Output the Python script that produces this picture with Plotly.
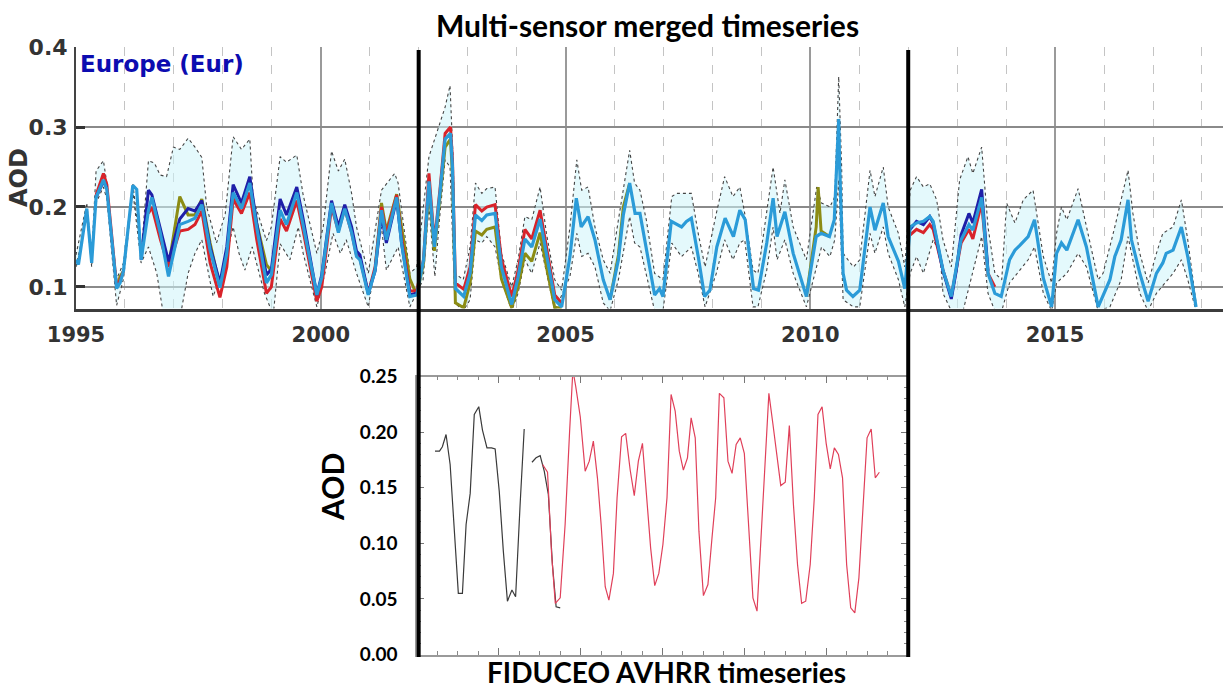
import plotly.graph_objects as go

# ---------------- Top panel: multi-sensor merged AOD, Europe ----------------
main_x = [1995.00, 1995.05, 1995.22, 1995.32, 1995.41, 1995.56, 1995.63, 1995.83, 1995.90, 1995.97,
          1996.16, 1996.24, 1996.33, 1996.48, 1996.55, 1996.72, 1996.89, 1997.12, 1997.29, 1997.43,
          1997.57, 1997.74, 1997.94, 1998.08, 1998.21, 1998.38, 1998.55, 1998.69, 1998.89, 1998.99,
          1999.17, 1999.30, 1999.51, 1999.64, 1999.92, 2000.02, 2000.22, 2000.36, 2000.49, 2000.63,
          2000.73, 2000.80, 2000.97, 2001.11, 2001.24, 2001.34, 2001.55, 2001.65, 2001.82, 2001.96,
          2002.10, 2002.21, 2002.32, 2002.44, 2002.54, 2002.65, 2002.69, 2002.75, 2002.92, 2003.05,
          2003.16, 2003.29, 2003.39, 2003.56, 2003.69, 2003.90, 2004.03, 2004.17, 2004.31, 2004.48,
          2004.61, 2004.78, 2004.92, 2005.09, 2005.22, 2005.32, 2005.46, 2005.60, 2005.77, 2005.91,
          2006.08, 2006.18, 2006.31, 2006.42, 2006.52, 2006.65, 2006.82, 2006.92, 2006.99, 2007.16,
          2007.27, 2007.37, 2007.47, 2007.57, 2007.71, 2007.84, 2007.95, 2008.09, 2008.26, 2008.43,
          2008.56, 2008.67, 2008.84, 2008.94, 2009.11, 2009.24, 2009.32, 2009.48, 2009.65, 2009.92,
          2010.12, 2010.22, 2010.39, 2010.49, 2010.58, 2010.60, 2010.67, 2010.74, 2010.87, 2011.01,
          2011.22, 2011.32, 2011.49, 2011.59, 2011.80, 2011.93, 2012.04, 2012.17, 2012.31, 2012.44,
          2012.51, 2012.71, 2012.88, 2012.98, 2013.08, 2013.24, 2013.32, 2013.50, 2013.63, 2013.77,
          2013.90, 2014.07, 2014.18, 2014.28, 2014.45, 2014.58, 2014.76, 2014.93, 2015.03, 2015.13,
          2015.24, 2015.47, 2015.64, 2015.88, 2015.98, 2016.12, 2016.22, 2016.35, 2016.49, 2016.56,
          2016.73, 2016.90, 2017.07, 2017.20, 2017.27, 2017.41, 2017.58, 2017.71, 2017.88]
main_aod = [0.134, 0.128, 0.198, 0.130, 0.212, 0.234, 0.222, 0.098, 0.105, 0.120,
            0.227, 0.222, 0.134, 0.196, 0.212, 0.168, 0.113, 0.178, 0.182, 0.186,
            0.203, 0.146, 0.099, 0.142, 0.218, 0.198, 0.230, 0.175, 0.105, 0.115,
            0.196, 0.178, 0.218, 0.178, 0.090, 0.112, 0.205, 0.168, 0.198, 0.168,
            0.138, 0.134, 0.090, 0.121, 0.196, 0.159, 0.212, 0.155, 0.088, 0.090,
            0.134, 0.232, 0.150, 0.221, 0.285, 0.292, 0.250, 0.098, 0.088, 0.117,
            0.190, 0.183, 0.190, 0.192, 0.125, 0.078, 0.112, 0.160, 0.150, 0.185,
            0.140, 0.084, 0.075, 0.138, 0.211, 0.175, 0.188, 0.159, 0.109, 0.084,
            0.134, 0.190, 0.230, 0.192, 0.192, 0.150, 0.090, 0.098, 0.088, 0.182,
            0.178, 0.175, 0.182, 0.186, 0.138, 0.088, 0.096, 0.150, 0.186, 0.163,
            0.196, 0.184, 0.098, 0.096, 0.155, 0.211, 0.163, 0.194, 0.142, 0.088,
            0.163, 0.167, 0.163, 0.184, 0.310, 0.250, 0.117, 0.096, 0.088, 0.096,
            0.200, 0.171, 0.205, 0.163, 0.132, 0.098, 0.175, 0.180, 0.182, 0.188,
            0.182, 0.121, 0.088, 0.121, 0.159, 0.178, 0.171, 0.212, 0.117, 0.092,
            0.088, 0.134, 0.146, 0.152, 0.163, 0.184, 0.111, 0.075, 0.142, 0.155,
            0.146, 0.184, 0.150, 0.075, 0.090, 0.109, 0.138, 0.159, 0.209, 0.159,
            0.117, 0.082, 0.117, 0.130, 0.142, 0.146, 0.175, 0.138, 0.075]

red_x = [1995.41, 1995.56, 1995.63, 1995.83, 1995.90, 1995.97, None,
         1996.48, 1996.55, 1996.72, 1996.89, 1997.12, 1997.29, 1997.43, 1997.57, 1997.74, 1997.94,
         1998.08, 1998.21, 1998.38, 1998.55, 1998.69, 1998.89, 1998.99, 1999.17, 1999.30, 1999.51,
         1999.64, 1999.92, 2000.02, 2000.22, 2000.36, 2000.49, 2000.63, 2000.73, 2000.80, 2000.97,
         2001.11, 2001.24, 2001.34, 2001.55, 2001.65, 2001.82, 2001.96, 2002.10, 2002.21, 2002.32,
         2002.44, 2002.54, 2002.65, 2002.69, 2002.75, 2002.92, 2003.05, 2003.16, 2003.29, 2003.39,
         2003.56, 2003.69, 2003.90, 2004.03, 2004.17, 2004.31, 2004.48, 2004.61, 2004.78, 2004.92, None,
         2012.04, 2012.17, 2012.31, 2012.44, 2012.51, 2012.71, 2012.88, 2012.98, 2013.08, 2013.24,
         2013.32, 2013.50, 2013.63, 2013.77]
red_aod = [0.215, 0.242, 0.228, 0.100, 0.108, 0.120, None,
           0.192, 0.200, 0.160, 0.125, 0.170, 0.172, 0.178, 0.195, 0.130, 0.087,
           0.125, 0.210, 0.192, 0.218, 0.160, 0.092, 0.100, 0.185, 0.170, 0.208,
           0.170, 0.082, 0.100, 0.200, 0.170, 0.198, 0.168, 0.140, 0.135, 0.092,
           0.125, 0.200, 0.165, 0.215, 0.162, 0.095, 0.095, 0.135, 0.242, 0.155,
           0.225, 0.292, 0.300, 0.260, 0.105, 0.097, 0.125, 0.203, 0.195, 0.200,
           0.203, 0.135, 0.088, 0.120, 0.172, 0.160, 0.196, 0.150, 0.090, 0.080, None,
           0.165, 0.172, 0.168, 0.178, 0.172, 0.121, 0.088, 0.121, 0.155, 0.172,
           0.160, 0.205, 0.117, 0.100]

blue_x = [1995.41, 1995.56, 1995.63, None,
          1996.33, 1996.48, 1996.55, 1996.72, 1996.89, 1997.12, 1997.29, 1997.43, 1997.57, 1997.74,
          1997.94, 1998.08, 1998.21, 1998.38, 1998.55, 1998.69, 1998.89, 1998.99, 1999.17, 1999.30,
          1999.51, 1999.64, 1999.92, 2000.02, 2000.22, 2000.36, 2000.49, 2000.63, 2000.73, 2000.80,
          2000.97, 2001.11, 2001.24, 2001.34, 2001.55, 2001.65, 2001.82, 2001.96, None,
          2012.04, 2012.17, 2012.31, 2012.44, 2012.51, 2012.71, 2012.88, 2012.98, 2013.08, 2013.24,
          2013.32, 2013.50, 2013.63]
blue_aod = [0.212, 0.232, 0.224, None,
            0.134, 0.221, 0.215, 0.175, 0.132, 0.185, 0.198, 0.195, 0.208, 0.150,
            0.105, 0.150, 0.228, 0.205, 0.238, 0.180, 0.115, 0.122, 0.210, 0.190,
            0.225, 0.185, 0.090, 0.115, 0.208, 0.175, 0.203, 0.175, 0.145, 0.140,
            0.092, 0.120, 0.190, 0.155, 0.210, 0.155, 0.090, 0.092, None,
            0.172, 0.182, 0.178, 0.188, 0.180, 0.120, 0.085, 0.120, 0.165, 0.192,
            0.180, 0.222, 0.120]

olive_x = [1995.83, 1995.90, 1995.97, None,
           1996.89, 1997.12, 1997.29, 1997.43, 1997.57, 1997.74, 1997.94, 1998.08, 1998.21, 1998.38,
           1998.55, 1998.69, 1998.89, 1998.99, None,
           2001.11, 2001.24, 2001.34, 2001.55, 2001.65, 2001.82, 2001.96, 2002.10, 2002.21, 2002.32,
           2002.44, 2002.54, 2002.65, 2002.69, 2002.75, 2002.92, 2003.05, 2003.16, 2003.29, 2003.39,
           2003.56, 2003.69, 2003.90, 2004.03, 2004.17, 2004.31, 2004.48, 2004.61, 2004.78, 2004.92, None,
           2005.91, 2006.08, 2006.18, 2006.31, None,
           2009.92, 2010.12, 2010.16, 2010.22, 2010.39]
olive_aod = [0.100, 0.113, 0.120, None,
             0.125, 0.213, 0.190, 0.190, 0.210, 0.155, 0.100, 0.140, 0.215, 0.200,
             0.232, 0.180, 0.128, 0.120, None,
             0.121, 0.205, 0.170, 0.216, 0.175, 0.110, 0.090, 0.130, 0.225, 0.145,
             0.215, 0.275, 0.285, 0.240, 0.080, 0.074, 0.105, 0.170, 0.165, 0.172,
             0.175, 0.110, 0.074, 0.100, 0.142, 0.132, 0.168, 0.125, 0.074, 0.074, None,
             0.084, 0.140, 0.200, 0.230, None,
             0.088, 0.175, 0.225, 0.170, 0.163]

upper_x = [1995.00, 1995.22, 1995.32, 1995.41, 1995.56, 1995.63, 1995.83, 1995.97, 1996.16, 1996.33,
           1996.48, 1996.60, 1996.72, 1996.85, 1996.99, 1997.12, 1997.29, 1997.43, 1997.57, 1997.67,
           1997.87, 1998.05, 1998.21, 1998.38, 1998.55, 1998.62, 1998.89, 1998.99, 1999.17, 1999.30,
           1999.51, 1999.64, 1999.92, 2000.05, 2000.22, 2000.36, 2000.49, 2000.63, 2000.73, 2000.97,
           2001.24, 2001.51, 2001.58, 2001.72, 2001.82, 2001.96, 2002.21, 2002.54, 2002.64, 2002.71,
           2002.74, 2002.91, 2003.05, 2003.16, 2003.29, 2003.39, 2003.56, 2003.69, 2003.90, 2004.03,
           2004.17, 2004.31, 2004.48, 2004.61, 2004.78, 2004.92, 2005.09, 2005.23, 2005.33, 2005.46,
           2005.60, 2005.77, 2005.91, 2006.08, 2006.31, 2006.41, 2006.52, 2006.65, 2006.82, 2006.99,
           2007.17, 2007.27, 2007.47, 2007.57, 2007.71, 2007.85, 2008.08, 2008.25, 2008.42, 2008.56,
           2008.66, 2008.83, 2008.93, 2009.11, 2009.24, 2009.38, 2009.48, 2009.65, 2009.92, 2010.13,
           2010.23, 2010.40, 2010.50, 2010.58, 2010.64, 2010.67, 2010.88, 2011.01, 2011.22, 2011.32,
           2011.49, 2011.59, 2011.80, 2011.93, 2012.04, 2012.17, 2012.31, 2012.44, 2012.58, 2012.71,
           2012.88, 2013.05, 2013.22, 2013.32, 2013.50, 2013.63, 2013.77, 2013.91, 2014.01, 2014.18,
           2014.35, 2014.55, 2014.76, 2014.93, 2015.03, 2015.13, 2015.24, 2015.47, 2015.64, 2015.88,
           2015.98, 2016.22, 2016.49, 2016.59, 2016.73, 2016.90, 2017.07, 2017.20, 2017.41, 2017.58,
           2017.71, 2017.88]
upper_aod = [0.140, 0.205, 0.140, 0.245, 0.258, 0.230, 0.110, 0.130, 0.230, 0.140,
             0.258, 0.255, 0.240, 0.238, 0.275, 0.272, 0.286, 0.275, 0.262, 0.200,
             0.155, 0.192, 0.288, 0.272, 0.285, 0.210, 0.158, 0.175, 0.263, 0.256,
             0.265, 0.215, 0.142, 0.175, 0.270, 0.245, 0.260, 0.217, 0.175, 0.117,
             0.221, 0.242, 0.230, 0.167, 0.117, 0.125, 0.263, 0.325, 0.352, 0.250,
             0.117, 0.109, 0.150, 0.230, 0.217, 0.223, 0.225, 0.142, 0.100, 0.134,
             0.188, 0.184, 0.225, 0.167, 0.109, 0.096, 0.175, 0.259, 0.221, 0.225,
             0.175, 0.134, 0.117, 0.184, 0.271, 0.230, 0.221, 0.184, 0.117, 0.109,
             0.213, 0.217, 0.217, 0.217, 0.167, 0.125, 0.192, 0.238, 0.213, 0.225,
             0.192, 0.121, 0.117, 0.192, 0.250, 0.192, 0.234, 0.175, 0.134, 0.225,
             0.205, 0.200, 0.213, 0.363, 0.250, 0.142, 0.125, 0.134, 0.246, 0.213,
             0.250, 0.200, 0.167, 0.125, 0.221, 0.238, 0.225, 0.229, 0.209, 0.159,
             0.125, 0.234, 0.263, 0.242, 0.275, 0.175, 0.117, 0.109, 0.205, 0.180,
             0.209, 0.221, 0.138, 0.105, 0.167, 0.200, 0.184, 0.223, 0.175, 0.109,
             0.117, 0.175, 0.246, 0.192, 0.142, 0.105, 0.142, 0.167, 0.175, 0.209,
             0.159, 0.080]

lower_x = [1995.00, 1995.22, 1995.32, 1995.41, 1995.56, 1995.63, 1995.83, 1995.97, 1996.16, 1996.33,
           1996.48, 1996.65, 1996.80, 1997.12, 1997.29, 1997.43, 1997.57, 1997.80, 1998.00, 1998.21,
           1998.33, 1998.45, 1998.60, 1998.85, 1999.03, 1999.17, 1999.37, 1999.54, 1999.64, 1999.92,
           2000.10, 2000.25, 2000.40, 2000.52, 2000.73, 2000.97, 2001.24, 2001.34, 2001.58, 2001.82,
           2002.09, 2002.21, 2002.33, 2002.43, 2002.54, 2002.64, 2002.74, 2002.91, 2003.05, 2003.16,
           2003.29, 2003.39, 2003.56, 2003.69, 2003.90, 2004.03, 2004.17, 2004.31, 2004.48, 2004.61,
           2004.78, 2005.09, 2005.23, 2005.33, 2005.46, 2005.60, 2005.77, 2005.91, 2006.08, 2006.31,
           2006.41, 2006.52, 2006.65, 2006.82, 2006.99, 2007.17, 2007.37, 2007.57, 2007.71, 2007.85,
           2008.08, 2008.25, 2008.42, 2008.56, 2008.66, 2008.83, 2008.93, 2009.11, 2009.24, 2009.32,
           2009.48, 2009.65, 2009.92, 2010.13, 2010.23, 2010.40, 2010.50, 2010.58, 2010.67, 2010.88,
           2011.01, 2011.22, 2011.32, 2011.49, 2011.59, 2011.80, 2011.93, 2012.04, 2012.17, 2012.31,
           2012.51, 2012.65, 2012.71, 2012.88, 2013.12, 2013.50, 2013.63, 2013.77, 2013.91, 2014.07,
           2014.28, 2014.45, 2014.58, 2014.76, 2014.93, 2015.03, 2015.24, 2015.47, 2015.64, 2015.88,
           2016.12, 2016.35, 2016.49, 2016.73, 2016.90, 2017.07, 2017.41, 2017.58, 2017.71, 2017.88]
lower_aod = [0.125, 0.190, 0.125, 0.205, 0.225, 0.210, 0.077, 0.110, 0.220, 0.130,
             0.150, 0.117, 0.060, 0.060, 0.117, 0.142, 0.159, 0.088, 0.121, 0.175,
             0.142, 0.121, 0.150, 0.092, 0.065, 0.154, 0.134, 0.175, 0.142, 0.075,
             0.121, 0.167, 0.142, 0.159, 0.117, 0.075, 0.175, 0.121, 0.150, 0.075,
             0.109, 0.200, 0.113, 0.188, 0.259, 0.250, 0.080, 0.070, 0.084, 0.159,
             0.155, 0.163, 0.150, 0.109, 0.070, 0.092, 0.134, 0.117, 0.155, 0.117,
             0.070, 0.113, 0.167, 0.138, 0.142, 0.125, 0.080, 0.070, 0.109, 0.188,
             0.155, 0.150, 0.117, 0.070, 0.070, 0.155, 0.138, 0.150, 0.117, 0.075,
             0.117, 0.159, 0.134, 0.155, 0.159, 0.075, 0.075, 0.121, 0.175, 0.134,
             0.159, 0.117, 0.075, 0.125, 0.150, 0.138, 0.159, 0.234, 0.084, 0.075,
             0.075, 0.167, 0.142, 0.175, 0.142, 0.109, 0.075, 0.117, 0.138, 0.117,
             0.159, 0.142, 0.092, 0.070, 0.070, 0.163, 0.092, 0.070, 0.070, 0.105,
             0.121, 0.134, 0.150, 0.092, 0.070, 0.105, 0.117, 0.142, 0.125, 0.070,
             0.075, 0.109, 0.163, 0.092, 0.070, 0.092, 0.117, 0.134, 0.109, 0.070]

avhrr_period = [2002, 2012]
top_year_ticks = [1995, 2000, 2005, 2010, 2015]

# ---------------- Bottom panel: FIDUCEO AVHRR AOD (months since Jan 2002) ----------------
avhrr_a_month = [4.4, 5.5, 6.2, 7.1, 8.1, 10.1, 11.1, 12.0, 13.0, 14.0, 15.1, 16.0, 17.1, 18.2, 19.1,
                 20.1, 21.1, 22.1, 23.2, 24.1, 25.2, 26.2, None,
                 28.1, 29.1, 30.1, 31.1, 32.1, 33.1, 34.0, 35.0]
avhrr_a_aod = [0.183, 0.183, 0.187, 0.198, 0.171, 0.055, 0.055, 0.117, 0.145, 0.216, 0.223, 0.202,
               0.186, 0.186, 0.185, 0.147, 0.093, 0.048, 0.058, 0.052, 0.135, 0.203, None,
               0.173, 0.177, 0.179, 0.165, 0.144, 0.081, 0.043, 0.042]

avhrr_b_month = [30.7, 31.9, 32.9, 33.8, 35.0, 36.2, 37.3, 38.1, 38.8, 39.9, 41.1, 42.1, 43.1, 44.1,
                 45.0, 46.0, 46.9, 48.0, 48.9, 50.0, 51.0, 52.1, 53.1, 54.1, 55.1, 56.1, 57.1, 58.1,
                 59.1, 60.1, 61.1, 62.1, 63.1, 64.1, 65.1, 66.1, 67.0, 68.0, 68.9, 70.0, 71.1, 72.1,
                 73.0, 73.9, 75.0, 76.0, 77.0, 78.0, 79.0, 80.0, 81.0, 82.1, 83.1, 84.0, 85.1, 86.0,
                 87.0, 88.0, 88.9, 90.0, 91.0, 92.0, 93.0, 94.0, 95.0, 96.1, 97.1, 98.0, 99.0, 100.0,
                 101.0, 102.0, 103.0, 104.0, 105.0, 106.0, 107.0, 108.0, 109.0, 110.0, 111.0, 112.0, 113.0]
avhrr_b_aod = [0.171, 0.164, 0.090, 0.046, 0.051, 0.117, 0.201, 0.256, 0.241, 0.214, 0.165, 0.174,
               0.192, 0.159, 0.117, 0.061, 0.049, 0.073, 0.141, 0.196, 0.199, 0.166, 0.143, 0.174,
               0.190, 0.139, 0.096, 0.062, 0.073, 0.099, 0.141, 0.234, 0.219, 0.183, 0.166, 0.177,
               0.213, 0.195, 0.111, 0.053, 0.063, 0.105, 0.141, 0.235, 0.231, 0.174, 0.163, 0.189,
               0.195, 0.181, 0.117, 0.051, 0.039, 0.099, 0.174, 0.235, 0.207, 0.177, 0.152, 0.155,
               0.206, 0.135, 0.081, 0.046, 0.048, 0.081, 0.141, 0.216, 0.223, 0.190, 0.167, 0.186,
               0.180, 0.159, 0.081, 0.042, 0.0375, 0.069, 0.135, 0.195, 0.203, 0.159, 0.164]

W, H = 1223, 688
fig = go.Figure()

# envelope fill
fig.add_trace(go.Scatter(x=upper_x + lower_x[::-1], y=upper_aod + lower_aod[::-1],
                         fill="toself", fillcolor="rgba(205,244,250,0.55)", line=dict(width=0),
                         mode="lines", hoverinfo="skip", xaxis="x", yaxis="y"))
for ex, ey in [(upper_x, upper_aod), (lower_x, lower_aod)]:
    fig.add_trace(go.Scatter(x=ex, y=ey, mode="lines", xaxis="x", yaxis="y",
                             line=dict(color="#444444", width=1.1, dash="dot")))
for sx, sy, col in [(olive_x, olive_aod, "#8c8c14"), (red_x, red_aod, "#d8232a"),
                    (blue_x, blue_aod, "#1f1fa8")]:
    fig.add_trace(go.Scatter(x=sx, y=sy, mode="lines", xaxis="x", yaxis="y",
                             line=dict(color=col, width=3), connectgaps=False))
fig.add_trace(go.Scatter(x=main_x, y=main_aod, mode="lines", xaxis="x", yaxis="y",
                         line=dict(color="#2b9bd8", width=3.2)))

# bottom traces
fig.add_trace(go.Scatter(x=avhrr_a_month, y=avhrr_a_aod, mode="lines", xaxis="x2", yaxis="y2",
                         line=dict(color="#3a3a3a", width=1.2), connectgaps=False))
fig.add_trace(go.Scatter(x=avhrr_b_month, y=avhrr_b_aod, mode="lines", xaxis="x2", yaxis="y2",
                         line=dict(color="#e0405a", width=1.2)))

top_y0, top_y1 = 1 - 308.5 / H, 1 - 46.5 / H
bot_y0, bot_y1 = 1 - 654.5 / H, 1 - 376.7 / H

fig.update_layout(
    template="none",
    width=W, height=H, margin=dict(l=0, r=0, t=0, b=0, autoexpand=False),
    paper_bgcolor="white", plot_bgcolor="white", showlegend=False,
    xaxis=dict(domain=[76 / W, 1], range=[1995, 2018.43], anchor="y", automargin=False,
               tickmode="array", tickvals=top_year_ticks,
               showgrid=True, gridcolor="#9a9a9a", gridwidth=1.5,
               minor=dict(dtick=1, tick0=1995, showgrid=True, griddash="dash",
                          gridcolor="#c4c4c4", gridwidth=1.3),
               showline=True, linecolor="#3c3c3c", linewidth=3, ticks="",
               ticklabelstandoff=5, zeroline=False,
               tickfont=dict(family="DejaVu Sans", size=21, color="#333333", weight="bold")),
    yaxis=dict(domain=[top_y0, top_y1], range=[0.073, 0.4008], anchor="x", automargin=False,
               tick0=0, dtick=0.1, tickformat=".1f",
               showgrid=True, gridcolor="#8a8a8a", gridwidth=2, zeroline=False,
               showline=True, linecolor="#444444", linewidth=2,
               ticks="inside", ticklen=9, tickwidth=3, tickcolor="#333333",
               ticklabelstandoff=2,
               tickfont=dict(family="DejaVu Sans", size=22, color="#333333", weight="bold")),
    xaxis2=dict(domain=[417 / W, 908 / W], range=[0, 120], anchor="y2", automargin=False,
                tick0=0, dtick=20, showticklabels=False, showgrid=False, zeroline=False,
                showline=True, linecolor="#9a9a9a", linewidth=1.5, mirror="ticks",
                ticks="inside", ticklen=7, tickcolor="#777777",
                minor=dict(dtick=5, ticks="inside", ticklen=4, tickcolor="#888888")),
    yaxis2=dict(domain=[bot_y0, bot_y1], range=[0, 0.25], anchor="x2", automargin=False,
                tick0=0, dtick=0.05, tickformat=".2f", showgrid=False, zeroline=False,
                showline=True, linecolor="#9a9a9a", linewidth=1.5, mirror="ticks",
                ticks="inside", ticklen=7, tickcolor="#777777",
                minor=dict(dtick=0.01, ticks="inside", ticklen=4, tickcolor="#888888"),
                ticklabelstandoff=14,
                tickfont=dict(family="Lato", size=19, color="black", weight="bold")),
)

for yr in avhrr_period:
    fig.add_shape(type="line", xref="x", yref="paper", x0=yr, x1=yr,
                  y0=1 - 657 / H, y1=1 - 50 / H, line=dict(color="black", width=4))

ann = [
    dict(text="Multi-sensor merged timeseries", x=647 / W, y=1 - 25 / H,
         font=dict(family="Lato", size=30, color="black", weight="bold")),
    dict(text="Europe (Eur)", x=78 / W, y=1 - 64 / H, xanchor="left",
         font=dict(family="DejaVu Sans", size=23, color="#0c0cb0", weight="bold")),
    dict(text="AOD", x=19 / W, y=1 - 178 / H, textangle=-90,
         font=dict(family="DejaVu Sans", size=24, color="#333333", weight="bold")),
    dict(text="AOD", x=332 / W, y=1 - 487 / H, textangle=-90,
         font=dict(family="Lato", size=30, color="black", weight="bold")),
    dict(text="FIDUCEO AVHRR timeseries", x=666 / W, y=1 - 672 / H,
         font=dict(family="Lato", size=28, color="black", weight="bold")),
]
for a in ann:
    a.setdefault("xanchor", "center")
    fig.add_annotation(xref="paper", yref="paper", showarrow=False, yanchor="middle", **a)

fig.write_html("out.html")
